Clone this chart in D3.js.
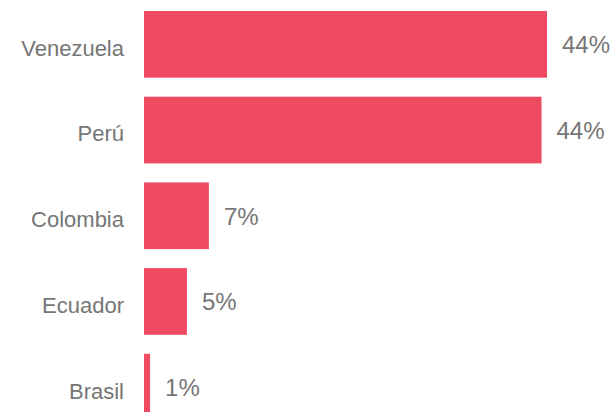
<!DOCTYPE html>
<html><head><meta charset="utf-8">
<script src="https://cdn.jsdelivr.net/npm/d3@7"></script>
<style>body{margin:0;background:#fff;} svg{display:block;}</style>
</head><body><div id="chart"></div>
<script>
const categories = ["Venezuela", "Perú", "Colombia", "Ecuador", "Brasil"];
const values = [44.1, 43.5, 7.1, 4.7, 0.66];
const valueLabels = ["44%", "44%", "7%", "5%", "1%"];

const W = 616, H = 412;
const svg = d3.select("#chart").append("svg").attr("width", W).attr("height", H);
const x = d3.scaleLinear().domain([0, d3.max(values)]).range([144, 547]);
const y = d3.scaleBand().domain(categories).range([11, 420.5]).paddingInner(0.222).paddingOuter(0);

const data = categories.map((c, i) => ({c, v: values[i], l: valueLabels[i]}));

svg.selectAll("rect").data(data).join("rect")
  .attr("x", x(0)).attr("y", d => y(d.c))
  .attr("width", d => x(d.v) - x(0)).attr("height", y.bandwidth())
  .attr("fill", "#f04a63");

svg.selectAll("text.cat").data(data).join("text").attr("class", "cat")
  .attr("x", x(0) - 20).attr("y", d => y(d.c) + y.bandwidth() / 2 + 11.4)
  .attr("text-anchor", "end")
  .attr("font-family", "Liberation Sans, Arial, sans-serif").attr("font-size", 22)
  .attr("fill", "#767676").text(d => d.c);

svg.selectAll("text.val").data(data).join("text").attr("class", "val")
  .attr("x", d => x(d.v) + 15).attr("y", d => y(d.c) + y.bandwidth() / 2 + 9)
  .attr("font-family", "Liberation Sans, Arial, sans-serif").attr("font-size", 24)
  .attr("fill", "#767676").text(d => d.l);
</script></body></html>
